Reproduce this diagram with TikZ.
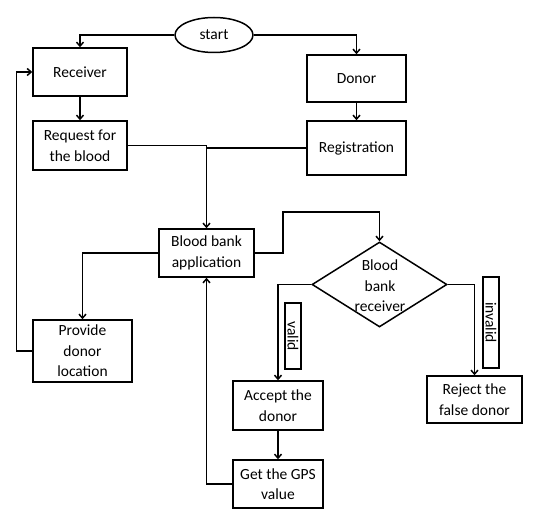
\documentclass[tikz,border=0pt]{standalone}
\usepackage{fontspec}
\setmainfont{Carlito}
\usetikzlibrary{arrows.meta,shapes.geometric}
\begin{document}
\begin{tikzpicture}[x=1pt,y=-1pt,
  txt/.style={font=\fontsize{15.5}{20.5}\selectfont},
  box/.style={draw, line width=1.5pt, align=center, txt, inner sep=1pt},
  tag/.style={draw, line width=1.5pt, txt, inner sep=0pt, minimum height=16pt, rotate=-90},
  conn/.style={line width=1.5pt},
  arr/.style={conn, -{Straight Barb[length=4pt,width=7pt]}}]
\useasboundingbox (0,0) rectangle (533,510);
\node[draw, ellipse, line width=1.5pt, minimum width=78pt, minimum height=35pt, txt, inner sep=0pt] (start) at (214,35) {start};
\node[box, minimum width=94pt, minimum height=48pt] (recv) at (80,72) {Receiver};
\node[box, minimum width=99pt, minimum height=47pt] (donor) at (356.5,78.5) {Donor};
\node[box, minimum width=94pt, minimum height=49pt] (req) at (80,145.5) {Request for\\the blood};
\node[box, minimum width=99pt, minimum height=54pt] (reg) at (356.5,148) {Registration};
\node[box, minimum width=95pt, minimum height=48pt] (app) at (206.5,253) {Blood bank\\application};
\node[draw, diamond, line width=1.5pt, minimum width=135pt, minimum height=85pt, inner sep=0pt] (dia) at (379.5,284.5) {};
\node[txt, align=center, inner sep=0pt] (diatext) at (380,286) {Blood\\bank\\receiver};
\node[box, minimum width=99pt, minimum height=62pt] (prov) at (82.5,351) {Provide\\donor\\location};
\node[box, minimum width=90pt, minimum height=49pt] (acc) at (278,405.5) {Accept the\\donor};
\node[box, minimum width=90pt, minimum height=48pt] (gps) at (278,484) {Get the GPS\\value};
\node[box, minimum width=95pt, minimum height=47pt] (rej) at (474.5,399.5) {Reject the\\false donor};
\node[tag, minimum width=66pt] (valid) at (293,336) {valid};
\node[tag, minimum width=91pt] (invalid) at (491,322.5) {invalid};
\coordinate (c1) at (283,212);
\draw[arr] (start.west) -| (recv.north);
\draw[arr] (start.east) -| (donor.north);
\draw[arr] (recv) -- (req);
\draw[arr] (donor) -- (reg);
\draw[arr] (req.east) -| (app.north);
\draw[conn] (reg.west) -- (reg.west -| app.north);
\draw[arr] (app.east) -| (c1) -| (dia.north);
\draw[arr] (app.west) -| (prov.north);
\draw[arr] (prov.west) -- ++(-16,0) |- (recv.west);
\draw[arr] (dia.west) -| (acc.north);
\draw[arr] (dia.east) -| (rej.north);
\draw[arr] (acc) -- (gps);
\draw[arr] (gps.west) -| (app.south);
\end{tikzpicture}
\end{document}
